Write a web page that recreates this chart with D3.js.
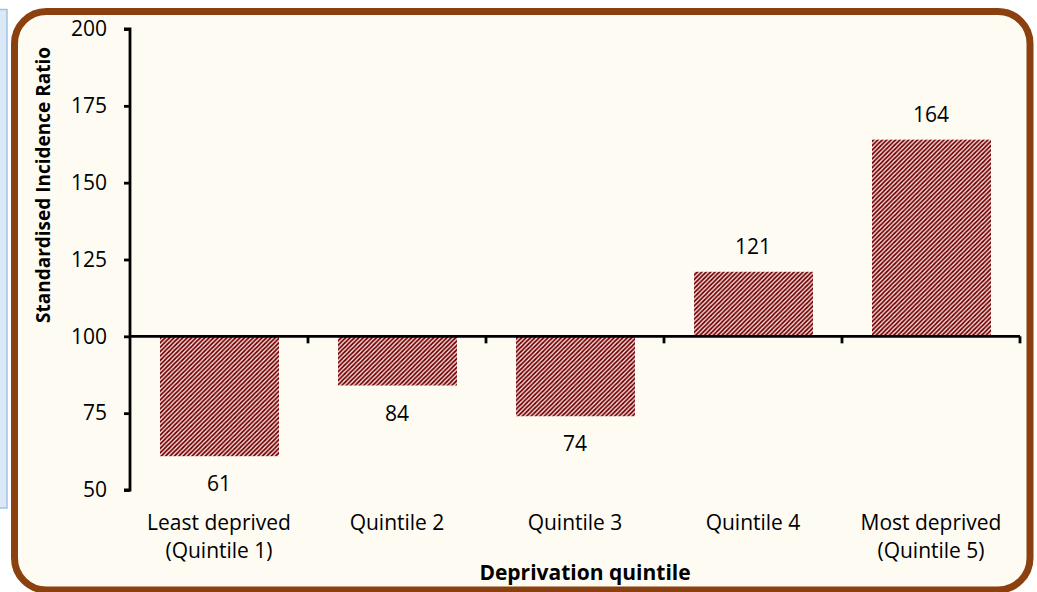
<!DOCTYPE html>
<html>
<head>
<meta charset="utf-8">
<script src="https://cdn.jsdelivr.net/npm/d3@7"></script>
<style>
  html, body { margin: 0; padding: 0; background: #ffffff; }
  svg { display: block; }
</style>
</head>
<body>
<svg id="chart" width="1037" height="592"></svg>
<script>
// ---- data ----
const categories = ["Least deprived|(Quintile 1)", "Quintile 2", "Quintile 3", "Quintile 4", "Most deprived|(Quintile 5)"];
const values = [61, 84, 74, 121, 164];
const yTicks = [50, 75, 100, 125, 150, 175, 200];
const baseline = 100;
const yTitle = "Standardised Incidence Ratio";
const xTitle = "Deprivation quintile";

const svg = d3.select("#chart");
const FONT = "'Open Sans', sans-serif";

// left light-blue panel
svg.append("rect")
  .attr("x", -6).attr("y", 9.5).attr("width", 13).attr("height", 498.5)
  .attr("fill", "#dbe8f6").attr("stroke", "#9dc3e6").attr("stroke-width", 1.5);

// frame
svg.append("rect")
  .attr("x", 14.5).attr("y", 11.5).attr("width", 1015.5).attr("height", 578.5)
  .attr("rx", 32).attr("ry", 32)
  .attr("fill", "#fefbf3").attr("stroke", "#8a410f").attr("stroke-width", 7);

// hatch pattern: upward diagonal stripes, ~4.4px period
const defs = svg.append("defs");
const P = 4.4, W = 2.7;
const pat = defs.append("pattern")
  .attr("id", "hatch").attr("patternUnits", "userSpaceOnUse")
  .attr("width", P).attr("height", P);
pat.append("rect").attr("width", P).attr("height", P).attr("fill", "#ffffff");
const stripePolys = [0, 1, 2].map(k => {
  const a = k * P - P, b = a + W;
  return `M${a},0 L${b},0 L${b - P},${P} L${a - P},${P} Z`;
});
pat.selectAll("path").data(stripePolys).join("path")
  .attr("d", d => d).attr("fill", "#780000");

// scales
const x = d3.scaleBand().domain(categories).range([130, 1020]).padding(0);
const y = d3.scaleLinear().domain([50, 200]).range([490, 29]);
const barW = x.bandwidth() * 0.668;

// bars
svg.append("g").selectAll("rect").data(values).join("rect")
  .attr("x", (d, i) => Math.round(x(categories[i]) + (x.bandwidth() - barW) / 2))
  .attr("y", d => y(Math.max(d, baseline)))
  .attr("width", Math.round(barW))
  .attr("height", d => Math.abs(y(d) - y(baseline)))
  .attr("fill", "url(#hatch)");

// y axis
const yAxis = svg.append("g")
  .attr("transform", "translate(130,0)")
  .call(d3.axisLeft(y).tickValues(yTicks).tickSize(6).tickPadding(17).tickFormat(d3.format("d")));
yAxis.select(".domain").attr("stroke", "#000").attr("stroke-width", 2.8)
  .attr("d", `M-6,${y(200)}H0V${y(50)}H-6`);
yAxis.selectAll(".tick line").attr("stroke", "#000").attr("stroke-width", 2.8);
yAxis.selectAll(".tick text")
  .attr("font-family", FONT).attr("font-size", 21).attr("fill", "#000");

// x axis line at baseline 100 with boundary ticks
const y0 = y(baseline);
svg.append("line")
  .attr("x1", 130).attr("x2", 1020).attr("y1", y0).attr("y2", y0)
  .attr("stroke", "#000").attr("stroke-width", 2.8);
const bounds = categories.slice(1).map(c => x(c)).concat([x.range()[1]]);
svg.append("g").selectAll("line").data(bounds).join("line")
  .attr("x1", d => d).attr("x2", d => d)
  .attr("y1", y0).attr("y2", y0 + 7)
  .attr("stroke", "#000").attr("stroke-width", 2.8);

// category labels
const lab = svg.append("g").selectAll("text").data(categories).join("text")
  .attr("x", d => x(d) + x.bandwidth() / 2)
  .attr("y", 530)
  .attr("text-anchor", "middle")
  .attr("font-family", FONT).attr("font-size", 21).attr("fill", "#000");
lab.each(function(d) {
  const parts = d.split("|");
  const t = d3.select(this);
  parts.forEach((p, k) => {
    t.append("tspan").attr("x", x(d) + x.bandwidth() / 2).attr("dy", k === 0 ? 0 : 28).text(p);
  });
});

// value labels
svg.append("g").selectAll("text").data(values).join("text")
  .attr("x", (d, i) => x(categories[i]) + x.bandwidth() / 2)
  .attr("y", d => d >= baseline ? y(d) - 18 : y(d) + 35)
  .attr("text-anchor", "middle")
  .attr("font-family", FONT).attr("font-size", 21).attr("fill", "#000")
  .text(d => d);

// axis titles
svg.append("text")
  .attr("transform", "translate(50,185) rotate(-90)")
  .attr("text-anchor", "middle")
  .attr("font-family", FONT).attr("font-size", 19).attr("font-weight", "bold").attr("fill", "#000")
  .text(yTitle);
svg.append("text")
  .attr("x", 585).attr("y", 580)
  .attr("text-anchor", "middle")
  .attr("font-family", FONT).attr("font-size", 21).attr("font-weight", "bold").attr("fill", "#000")
  .text(xTitle);
</script>
</body>
</html>
